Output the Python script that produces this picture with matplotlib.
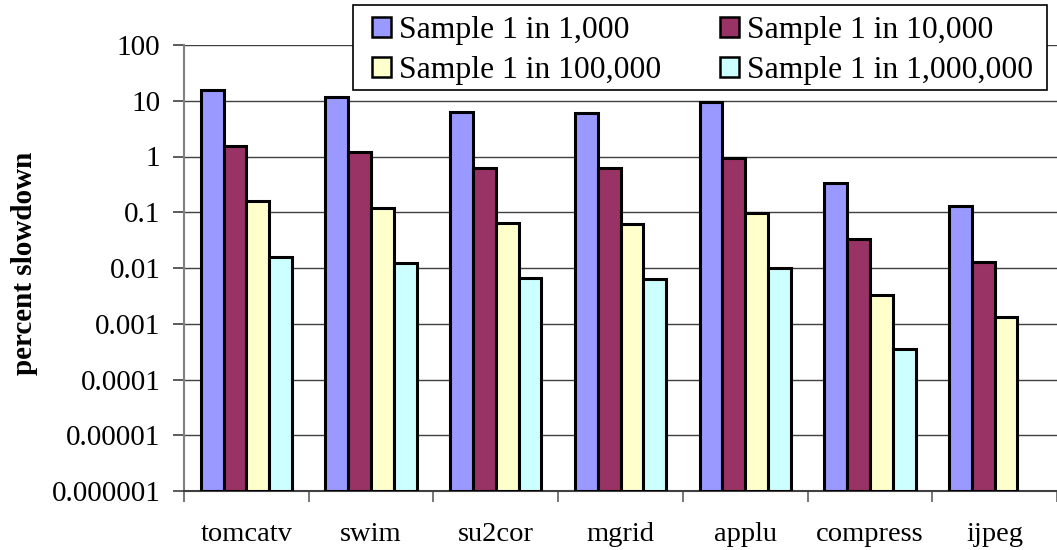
import matplotlib
matplotlib.use("Agg")
import matplotlib.pyplot as plt
import numpy as np
from matplotlib.patches import Patch, Rectangle

plt.rcParams['font.family'] = ['Liberation Serif', 'DejaVu Serif']

categories = ["tomcatv", "swim", "su2cor", "mgrid", "applu", "compress", "ijpeg"]
series_names = ["Sample 1 in 1,000", "Sample 1 in 10,000",
                "Sample 1 in 100,000", "Sample 1 in 1,000,000"]
s1000 = [15.6, 11.8, 6.2, 6.0, 9.6, 0.33, 0.129]
s10000 = [1.56, 1.19, 0.62, 0.61, 0.95, 0.033, 0.013]
s100000 = [0.157, 0.121, 0.064, 0.062, 0.095, 0.0033, 0.0013]
s1000000 = [0.016, 0.0121, 0.0066, 0.0063, 0.0099, 0.00035, None]
colors = ["#9999FF", "#993366", "#FFFFCC", "#CCFFFF"]
ytick_vals = [1e-6, 1e-5, 1e-4, 1e-3, 1e-2, 1e-1, 1, 10, 100]
ytick_labels = ["0.000001", "0.00001", "0.0001", "0.001", "0.01", "0.1", "1", "10", "100"]

W, H = 1057, 550
fig = plt.figure(figsize=(W / 100, H / 100), dpi=100)
ax = fig.add_axes([184 / W, 59 / H, 873 / W, 446 / H])
ax.set_yscale('log')
ymin, ymax = 1e-6, 100
ax.set_ylim(ymin, ymax)
ax.set_xlim(-0.5, -0.5 + 873 / 126)

x = np.arange(len(categories))
bw = 0.183
all_series = [s1000, s10000, s100000, s1000000]
for i, (vals, c) in enumerate(zip(all_series, colors)):
    xs = [xi + (i - 1.5) * bw for xi, v in zip(x, vals) if v is not None]
    vs = [v for v in vals if v is not None]
    ax.bar(xs, [v - ymin for v in vs], width=bw, bottom=ymin, color=c,
           edgecolor='black', linewidth=2.2, zorder=3)

ax.set_yticks(ytick_vals)
ax.set_yticklabels(ytick_labels)
ax.yaxis.set_minor_locator(matplotlib.ticker.NullLocator())
ax.grid(axis='y', color='#404040', linewidth=1.0, zorder=0)
ax.set_axisbelow(True)

ax.set_xticks(np.arange(len(categories) + 1) - 0.5)
ax.set_xticklabels([])
ax.set_xticks(x, minor=True)
ax.set_xticklabels(categories, minor=True)
ax.tick_params(axis='x', which='minor', length=0, pad=22, labelsize=20.5)
ax.tick_params(axis='x', which='major', length=8, width=1.2, color='#606060', direction='out')
ax.tick_params(axis='y', length=8, width=1.2, color='#404040', direction='out', labelsize=21, pad=9)

for s in ['top', 'right']:
    ax.spines[s].set_visible(False)
ax.spines['left'].set_color('#808080')
ax.spines['left'].set_linewidth(1.5)
ax.spines['bottom'].set_color('#404040')
ax.spines['bottom'].set_linewidth(1.5)

fig.text(25 / W, (550 - 263) / H, "percent slowdown", rotation=90, fontsize=21,
         fontweight='bold', ha='center', va='center')

# legend frame
frame = Rectangle((353 / W, 1 - 90 / H), 694 / W, 85 / H, transform=fig.transFigure,
                  facecolor='white', edgecolor='black', linewidth=1.2, zorder=4)
fig.patches.append(frame)

# row-wise legend order: matplotlib fills columns first
order = [0, 2, 1, 3]
handles = [Patch(facecolor=colors[k], edgecolor='black', linewidth=1.8) for k in order]
labels = [series_names[k] for k in order]
leg = fig.legend(handles, labels, ncol=2, loc='upper left',
                 bbox_to_anchor=(372 / W, 1 - 16 / H),
                 fontsize=22.8, frameon=False,
                 handlelength=0.6, handleheight=0.6,
                 handletextpad=0.25, columnspacing=1.85, labelspacing=0.35,
                 borderpad=0, borderaxespad=0)
leg.set_zorder(5)

fig.savefig("out.png", dpi=100)
